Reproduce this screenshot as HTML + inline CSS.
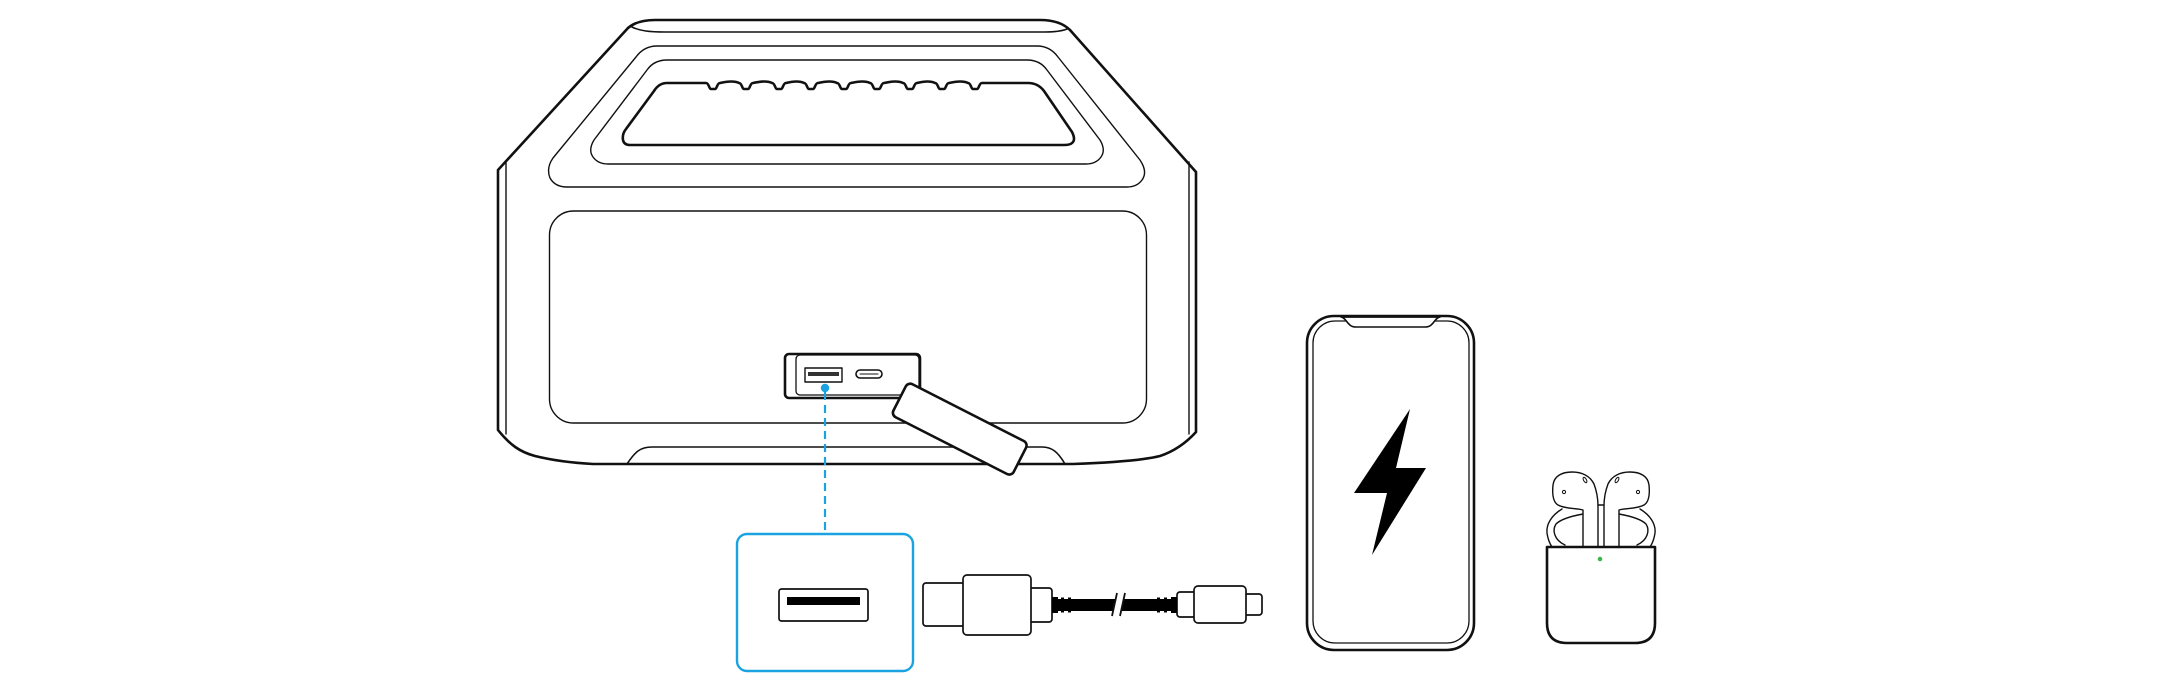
<!DOCTYPE html>
<html><head><meta charset="utf-8"><style>
html,body{margin:0;padding:0;background:#fff;}
svg{display:block;}
</style></head><body>
<svg width="2180" height="695" viewBox="0 0 2180 695" xmlns="http://www.w3.org/2000/svg">
<g fill="none" stroke="#111" stroke-linejoin="round" stroke-linecap="round">
  <!-- speaker silhouette -->
  <path d="M628 28 L498 170 L498 430 C510 445 520 452 535 456 C555 461 575 463 593 464 L1073 464 C1100 463 1140 461 1160 456 C1175 451 1186 443 1196 432 L1196 172 L1070 30" stroke-width="2.6"/>
  <!-- cap -->
  <path d="M628 28 C635 22 645 20 655 20 L1040 20 C1055 20 1064 24 1070 30" stroke-width="2.6"/>
  <path d="M632 27 C640 31 650 32 665 32 L1045 32 C1055 32 1062 31 1067 29" stroke-width="1.6"/>
  <!-- inner side lines -->
  <path d="M506 161 L506 434" stroke-width="1.4"/>
  <path d="M1189 162 L1189 434" stroke-width="1.4"/>
  <!-- feet -->
  <path d="M627 464 C635 452 640 447 652 447 L1042 447 C1052 447 1058 452 1065 464" stroke-width="1.6"/>
  <!-- handle outer region -->
  <path d="M657 46 L1037 46 Q1050 46 1058 57 L1140 160 Q1148 172 1142 180 Q1137 187 1127 187 L567 187 Q555 187 550 178 Q546 168 553 158 L636 57 Q644 46 657 46 Z" stroke-width="1.4"/>
  <!-- handle inner loop -->
  <path d="M667 60 L1027 60 Q1040 60 1047 70 L1100 140 Q1106 150 1101 157 Q1096 164 1086 164 L608 164 Q598 164 593 157 Q588 150 594 140 L647 70 Q654 60 667 60 Z" stroke-width="1.4"/>
  <!-- handle hole -->
  <path d="M667 83 L706 83 C709 83 709 89 711 89 L715 89 C717 89 717 83 720 83 Q733 80 739 83 C742 83 742 89 744 89 L748 89 C750 89 750 83 753 83 Q766 80 772 83 C775 83 775 89 777 89 L781 89 C783 89 783 83 786 83 Q798 80 804 83 C807 83 807 89 809 89 L813 89 C815 89 815 83 818 83 Q831 80 837 83 C840 83 840 89 842 89 L846 89 C848 89 848 83 851 83 Q864 80 870 83 C873 83 873 89 875 89 L879 89 C881 89 881 83 884 83 Q897 80 903 83 C906 83 906 89 908 89 L912 89 C914 89 914 83 917 83 Q929 80 935 83 C938 83 938 89 940 89 L944 89 C946 89 946 83 949 83 Q962 80 968 83 C971 83 971 89 973 89 L977 89 C979 89 979 83 982 83 L1028 83 Q1038 83 1044 91 L1072 132 Q1076 140 1072 143 Q1070 145 1064 145 L630 145 Q624 145 623 140 Q622 134 626 129 L654 91 Q659 83 667 83 Z" stroke-width="2.6"/>
  <!-- big front panel -->
  <rect x="549.5" y="211" width="597" height="212" rx="24" stroke-width="1.4"/>
  <!-- port panel -->
  <rect x="785" y="354" width="135" height="44" rx="4" stroke-width="2.6" fill="#fff"/>
  <rect x="796" y="355" width="123" height="40" rx="4" stroke-width="1.3"/>
  <rect x="805" y="368" width="37" height="14" stroke-width="1.4"/>
  <rect x="808" y="372" width="31" height="4" fill="#333" stroke="none"/>
  <rect x="856" y="370" width="26" height="8" rx="4" stroke-width="1.6"/>
  <path d="M860 374 L878 374" stroke-width="1"/>
  <!-- flap -->
  <g transform="translate(908 382) rotate(27)">
    <rect x="0" y="0" width="135" height="37" rx="5" fill="#fff" stroke-width="2.6"/>
  </g>
</g>
<!-- blue callout -->
<circle cx="825" cy="388" r="4.2" fill="#1aa3e0"/>
<path d="M825 392 L825 534" stroke="#1aa3e0" stroke-width="2.2" stroke-dasharray="8 5" fill="none"/>
<rect x="737" y="534" width="176" height="137" rx="10" fill="none" stroke="#1aa3e0" stroke-width="2.4"/>
<rect x="779" y="589" width="89" height="32" rx="2.5" fill="#fff" stroke="#111" stroke-width="1.7"/>
<rect x="787" y="597" width="73" height="8" fill="#000"/>

<!-- cable -->
<g stroke="#111" stroke-width="1.7" fill="#fff" stroke-linejoin="round">
  <rect x="923" y="583" width="42" height="43" rx="3"/>
  <rect x="1028" y="588" width="24" height="34" rx="3"/>
  <rect x="963" y="575" width="68" height="60" rx="4"/>
  <rect x="1177" y="592" width="20" height="25" rx="3"/>
  <rect x="1242" y="594" width="20" height="21" rx="3"/>
  <rect x="1194" y="586" width="52" height="37" rx="4"/>
</g>
<g fill="#000">
  <polygon points="1052,599 1116,599 1113,611 1052,611"/>
  <polygon points="1124,599 1177,599 1177,611 1121,611"/>
  <rect x="1052" y="597" width="6" height="16"/>
  <rect x="1061" y="597.5" width="3" height="15"/>
  <rect x="1068" y="597.5" width="3" height="15"/>
  <rect x="1171" y="597" width="6" height="16"/>
  <rect x="1164" y="597.5" width="3" height="15"/>
  <rect x="1157" y="597.5" width="3" height="15"/>
</g>
<g stroke="#111" stroke-width="1.8" fill="none">
  <path d="M1117 593 L1112 616"/>
  <path d="M1125 593 L1120 616"/>
</g>

<!-- phone -->
<g fill="none" stroke="#111" stroke-linejoin="round">
  <rect x="1307" y="316" width="167" height="334" rx="27" stroke-width="2.6" fill="#fff"/>
  <rect x="1313" y="321" width="156" height="322" rx="22" stroke-width="1.3"/>
  <path d="M1341 317 C1347 318 1347 327 1356 327 L1425 327 C1434 327 1434 318 1440 317 Z" fill="#fff" stroke-width="1.6"/>
</g>
<path d="M1341 316.5 L1440 316.5" stroke="#111" stroke-width="2.6"/>
<polygon points="1410,409 1354,493 1387,493 1372,555 1426,468 1396,468" fill="#000"/>

<!-- airpods -->
<g fill="none" stroke="#111" stroke-width="1.4" stroke-linejoin="round" stroke-linecap="round">
  <path d="M1562 509 C1552 515 1546 524 1547 533 C1548 540 1550 544 1552 547"/>
  <path d="M1583 514 C1572 516 1561 519 1556 524 C1552 530 1554 540 1565 545"/>
  <path d="M1640 509 C1650 515 1656 524 1655 533 C1654 540 1652 544 1650 547"/>
  <path d="M1619 514 C1630 516 1641 519 1646 524 C1650 530 1648 540 1637 545"/>
  <path d="M1583 547 L1583 510 C1576 508 1565 509 1558 505 C1553 502 1552 495 1553 485 C1554 476 1562 472 1572 472 C1582 472 1590 476 1594 484 C1597 492 1598 500 1598 506 L1598 547" fill="#fff"/>
  <path d="M1619 547 L1619 510 C1626 508 1637 509 1644 505 C1649 502 1650 495 1649 485 C1648 476 1640 472 1630 472 C1620 472 1612 476 1608 484 C1605 492 1604 500 1604 506 L1604 547" fill="#fff"/>
  <path d="M1598 505 L1604 505"/>
  <circle cx="1564" cy="492" r="1.6" stroke-width="1"/>
  <circle cx="1638" cy="492" r="1.6" stroke-width="1"/>
  <ellipse cx="1585" cy="480" rx="1.4" ry="3" transform="rotate(-30 1585 480)" stroke-width="1"/>
  <ellipse cx="1617" cy="480" rx="1.4" ry="3" transform="rotate(30 1617 480)" stroke-width="1"/>
</g>
<path d="M1547 547 L1655 547 L1655 623 Q1655 643 1635 643 L1567 643 Q1547 643 1547 623 Z" fill="#fff" stroke="#111" stroke-width="2.6" stroke-linejoin="round"/>
<circle cx="1600" cy="559" r="2.3" fill="#3cb54a"/>
</svg>
</body></html>
